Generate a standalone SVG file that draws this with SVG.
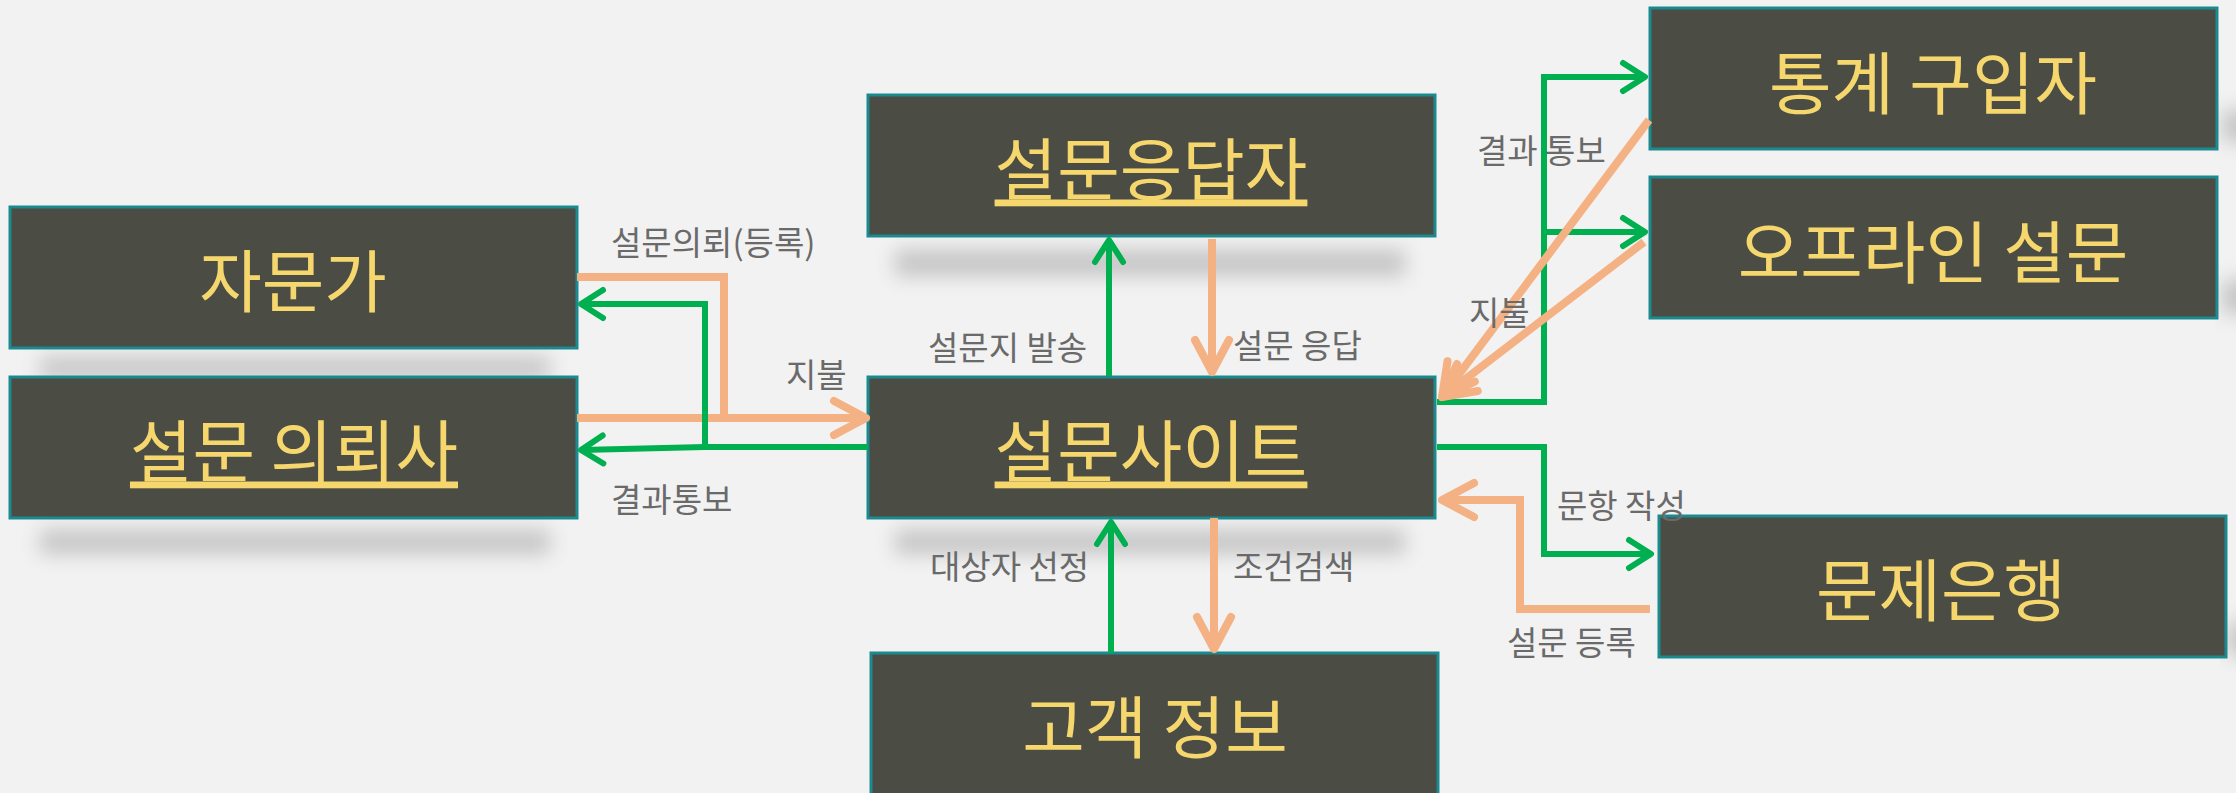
<svg xmlns="http://www.w3.org/2000/svg" width="2236" height="793" viewBox="0 0 2236 793">
<style>
.box{fill:#4B4D45;stroke:#1B8A8F;stroke-width:3}
.nt{font-family:"Noto Sans CJK KR","Noto Sans",sans-serif;font-size:68px;fill:#F5D76E;text-anchor:middle;dominant-baseline:central}
.u{text-decoration:underline}
.lb{font-family:"Noto Sans CJK KR","Noto Sans",sans-serif;font-size:33px;fill:#6A6A6A;dominant-baseline:central}
.sh{fill:#C4C4C4;filter:url(#blur)}
.g{fill:none;stroke:#00B050;stroke-width:6;marker-end:url(#ag)}
.o{fill:none;stroke:#F4B183;stroke-width:8;marker-end:url(#ao)}
.o0{fill:none;stroke:#F4B183;stroke-width:8}
</style>
<defs>
<filter id="blur" x="-20%" y="-200%" width="140%" height="500%"><feGaussianBlur stdDeviation="10"/></filter>
<marker id="ag" markerUnits="userSpaceOnUse" markerWidth="60" markerHeight="60" viewBox="-30 -30 60 60" refX="0" refY="0" orient="auto"><path d="M-22,-14 L0,0 L-22,14" fill="none" stroke="#00B050" stroke-width="6" stroke-linecap="round" stroke-linejoin="round"/></marker>
<marker id="ao" markerUnits="userSpaceOnUse" markerWidth="80" markerHeight="80" viewBox="-40 -40 80 80" refX="0" refY="0" orient="auto"><path d="M-32,-17 L0,0 L-32,17" fill="none" stroke="#F4B183" stroke-width="8" stroke-linecap="round" stroke-linejoin="round"/></marker>
</defs>
<rect width="2236" height="793" fill="#F2F2F2"/>

<g id="shadows">
<rect class="sh" x="40" y="357" width="510" height="22"/>
<rect class="sh" x="40" y="530" width="510" height="24"/>
<rect class="sh" x="895" y="250" width="510" height="26"/>
<rect class="sh" x="895" y="530" width="510" height="24"/>
<rect class="sh" x="2222" y="110" width="40" height="32"/>
<rect class="sh" x="2222" y="280" width="40" height="34"/>
<rect class="sh" x="2228" y="622" width="40" height="34"/>
</g>

<g id="node-jamunga"><rect class="box" x="10" y="207" width="567" height="141"/><text class="nt" x="293" y="277">자문가</text></g>
<g id="node-uiroesa"><rect class="box" x="10" y="377" width="567" height="141"/><text class="nt u" x="294" y="447">설문 의뢰사</text></g>
<g id="node-eungdapja"><rect class="box" x="868" y="95" width="567" height="141"/><text class="nt u" x="1151" y="165">설문응답자</text></g>
<g id="node-site"><rect class="box" x="868" y="377" width="567" height="141"/><text class="nt u" x="1151" y="447">설문사이트</text></g>
<g id="node-gogaek"><rect class="box" x="871" y="653" width="567" height="145"/><text class="nt" x="1155" y="723">고객 정보</text></g>
<g id="node-tonggye"><rect class="box" x="1650" y="8" width="567" height="141"/><text class="nt" x="1933" y="79">통계 구입자</text></g>
<g id="node-offline"><rect class="box" x="1650" y="177" width="567" height="141"/><text class="nt" x="1933" y="248">오프라인 설문</text></g>
<g id="node-munje"><rect class="box" x="1659" y="516" width="567" height="141"/><text class="nt" x="1941" y="586">문제은행</text></g>

<g id="connectors">
<path class="o0" d="M577,277 H724 V418"/>
<path class="o" d="M577,418 H866"/>
<path class="g" d="M868,447 H705 V304 H581"/>
<path class="g" d="M705,447 L581,450"/>
<path class="g" d="M1109,376 V240"/>
<path class="o" d="M1212,239 V372"/>
<path class="g" d="M1111,653 V522"/>
<path class="o" d="M1214,518 V649"/>
<path class="g" d="M1437,402 H1544 V77 H1645"/>
<path class="g" d="M1544,232 H1645"/>
<path class="g" d="M1437,447 H1544 V554 H1651"/>
<path class="o" d="M1649,120 L1442,397"/>
<path class="o" d="M1644,242 L1442,397"/>
<path class="o" d="M1650,609 H1520 V500 H1442"/>
</g>

<g id="labels">
<text class="lb" x="611" y="241">설문의뢰(등록)</text>
<text class="lb" x="786" y="373">지불</text>
<text class="lb" x="611" y="498">결과통보</text>
<text class="lb" x="928" y="346">설문지 발송</text>
<text class="lb" x="1233" y="344">설문 응답</text>
<text class="lb" x="930" y="565">대상자 선정</text>
<text class="lb" x="1233" y="565">조건검색</text>
<text class="lb" x="1477" y="149">결과 통보</text>
<text class="lb" x="1469" y="311">지불</text>
<text class="lb" x="1557" y="504">문항 작성</text>
<text class="lb" x="1507" y="641">설문 등록</text>
</g>
</svg>
